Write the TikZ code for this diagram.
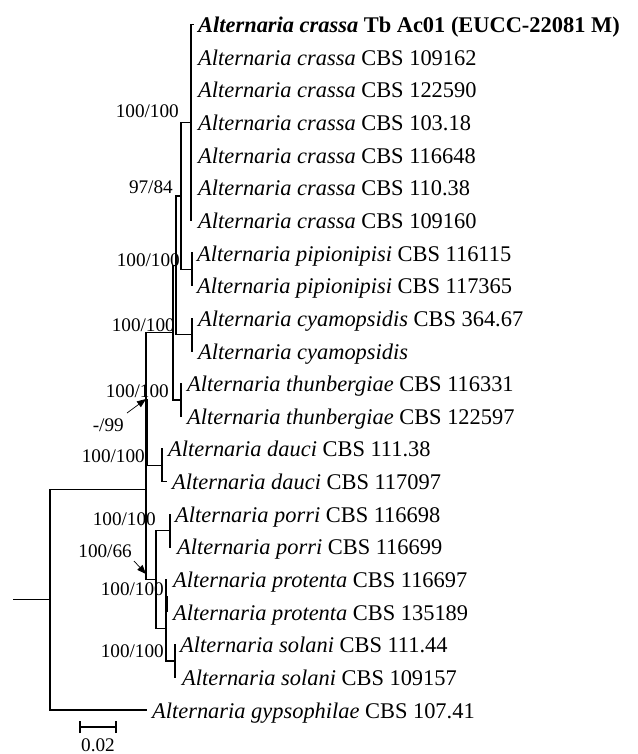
\documentclass[tikz,border=0pt]{standalone}
\usepackage{fontspec}
\setmainfont{Liberation Serif}
\usetikzlibrary{arrows.meta}
\begin{document}
\begin{tikzpicture}[x=1bp,y=-1bp,
  branch/.style={line width=1.5bp, line cap=rect},
  overlap/.style={line width=3bp},
  tiplab/.style={anchor=base west, inner sep=0pt, font=\fontsize{22.5}{27}\selectfont},
  bslab/.style={anchor=base east, inner sep=0pt, font=\fontsize{19.3}{23}\selectfont},
  pointer/.style={line width=0.7bp, -{Triangle[length=9bp,width=7bp]}}]
\useasboundingbox (0,0) rectangle (638,754);
% internal nodes
\coordinate (rs) at (14,599.7);
\coordinate (root) at (50,599.7);
\coordinate (Q) at (146,489.3);
\coordinate (P) at (146,399);
\coordinate (B1) at (173,332.6);
\coordinate (B2) at (176,265.3);
\coordinate (B3) at (181,195.9);
\coordinate (Ccr) at (191,122.45);
\coordinate (Cpip) at (192,269.4);
\coordinate (Ccy) at (192,334.7);
\coordinate (Cth) at (181,400);
\coordinate (Cda) at (162,465.3);
\coordinate (R) at (156,579.6);
\coordinate (Cpo) at (170,530.6);
\coordinate (S) at (166,628.6);
\coordinate (Cpr) at (166,595.9);
\coordinate (Cso) at (175,661.2);
% tip ends
\coordinate (e0) at (193,24.5);
\coordinate (e1) at (191,57.15);
\coordinate (e2) at (191,89.8);
\coordinate (e3) at (191,122.45);
\coordinate (e4) at (191,155.1);
\coordinate (e5) at (191,187.75);
\coordinate (e6) at (191,220.4);
\coordinate (e7) at (192,253.05);
\coordinate (e8) at (192,285.7);
\coordinate (e9) at (192,318.35);
\coordinate (e10) at (192,351.0);
\coordinate (e11) at (181,383.65);
\coordinate (e12) at (181,416.3);
\coordinate (e13) at (162,448.95);
\coordinate (e14) at (166,481.6);
\coordinate (e15) at (170,514.25);
\coordinate (e16) at (170,546.9);
\coordinate (e17) at (166,579.55);
\coordinate (e18) at (166,612.2);
\coordinate (e19) at (175,644.85);
\coordinate (e20) at (175,677.5);
\coordinate (e21) at (146,710.15);
% branches
\draw[branch] (rs) -- (root);
\foreach \p/\c in {root/Q, root/e21, Q/P, Q/R, P/B1, P/Cda, B1/B2, B1/Cth,
  B2/B3, B2/Ccy, B3/Ccr, B3/Cpip, Ccr/e0, Ccr/e6, Cpip/e7, Cpip/e8,
  Ccy/e9, Ccy/e10, Cth/e11, Cth/e12, Cda/e13, Cda/e14, R/Cpo, R/S,
  Cpo/e15, Cpo/e16, S/Cpr, S/Cso, Cpr/e17, Cpr/e18, Cso/e19, Cso/e20}
  \draw[branch] (\p) |- (\c);
\draw[overlap] (P) -- (P |- Cda);
\draw[overlap] (Cpr) -- (e18);
% tip labels
\node[tiplab] (t0) at (198,32.5) {\textbf{\textit{Alternaria crassa} Tb Ac01 (EUCC-22081 M)}};
\node[tiplab] (t1) at (198,65.15) {\textit{Alternaria crassa} CBS 109162};
\node[tiplab] (t2) at (198,97.8) {\textit{Alternaria crassa} CBS 122590};
\node[tiplab] (t3) at (198,130.45) {\textit{Alternaria crassa} CBS 103.18};
\node[tiplab] (t4) at (198,163.1) {\textit{Alternaria crassa} CBS 116648};
\node[tiplab] (t5) at (198,195.75) {\textit{Alternaria crassa} CBS 110.38};
\node[tiplab] (t6) at (198,228.4) {\textit{Alternaria crassa} CBS 109160};
\node[tiplab] (t7) at (197,261.05) {\textit{Alternaria pipionipisi} CBS 116115};
\node[tiplab] (t8) at (197,293.7) {\textit{Alternaria pipionipisi} CBS 117365};
\node[tiplab] (t9) at (198,326.35) {\textit{Alternaria cyamopsidis} CBS 364.67};
\node[tiplab] (t10) at (198,359.0) {\textit{Alternaria cyamopsidis}};
\node[tiplab] (t11) at (187,391.65) {\textit{Alternaria thunbergiae} CBS 116331};
\node[tiplab] (t12) at (187,424.3) {\textit{Alternaria thunbergiae} CBS 122597};
\node[tiplab] (t13) at (168,456.95) {\textit{Alternaria dauci} CBS 111.38};
\node[tiplab] (t14) at (172,489.6) {\textit{Alternaria dauci} CBS 117097};
\node[tiplab] (t15) at (175,522.25) {\textit{Alternaria porri} CBS 116698};
\node[tiplab] (t16) at (177,554.9) {\textit{Alternaria porri} CBS 116699};
\node[tiplab] (t17) at (173,587.55) {\textit{Alternaria protenta} CBS 116697};
\node[tiplab] (t18) at (173,620.2) {\textit{Alternaria protenta} CBS 135189};
\node[tiplab] (t19) at (180,652.85) {\textit{Alternaria solani} CBS 111.44};
\node[tiplab] (t20) at (182,685.5) {\textit{Alternaria solani} CBS 109157};
\node[tiplab] (t21) at (152,718.15) {\textit{Alternaria gypsophilae} CBS 107.41};
% support values
\node[bslab] (bs1) at (179,117) {100/100};
\node[bslab] (bs2) at (173,193) {97/84};
\node[bslab] (bs3) at (180,266) {100/100};
\node[bslab] (bs4) at (175,331) {100/100};
\node[bslab] (bs5) at (169,397) {100/100};
\node[bslab] (bs6) at (124,431) {-/99};
\node[bslab] (bs7) at (145,462) {100/100};
\node[bslab] (bs8) at (156,525) {100/100};
\node[bslab] (bs9) at (132,557) {100/66};
\node[bslab] (bs10) at (164,595) {100/100};
\node[bslab] (bs11) at (164,657) {100/100};
% pointers
\coordinate (q66) at (146,574);
\draw[pointer] ([shift={(3,-18)}]bs6.base east) -- (P);
\draw[pointer] ([shift={(2,4)}]bs9.base east) -- (q66);
% scale bar
\coordinate (sb1) at (80,727);
\coordinate (sb2) at (116,727);
\draw[branch] (sb1) -- (sb2);
\draw[branch, line cap=butt] ([yshift=-6bp]sb1) -- ([yshift=6bp]sb1);
\draw[branch, line cap=butt] ([yshift=-6bp]sb2) -- ([yshift=6bp]sb2);
\node[anchor=base, inner sep=0pt, font=\fontsize{19.3}{23}\selectfont] (sbl) at (98,751) {0.02};
\end{tikzpicture}
\end{document}
